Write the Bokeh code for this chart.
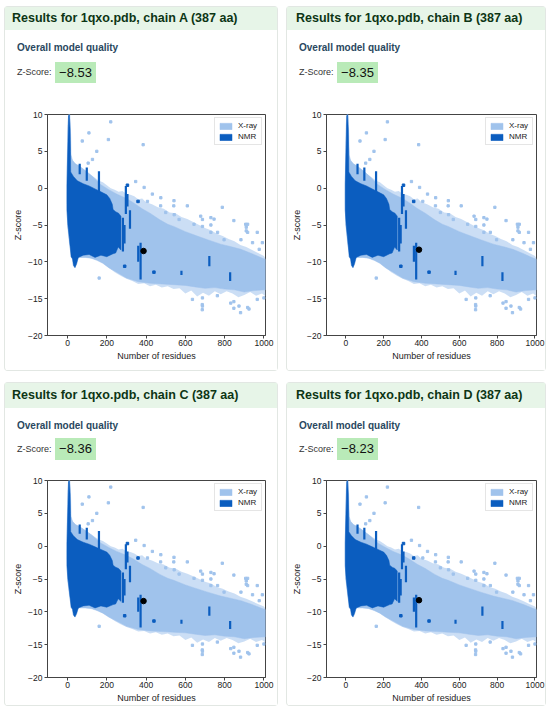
from bokeh.plotting import figure
from bokeh.layouts import column, row
from bokeh.models import Div, FixedTicker, Range1d
from bokeh.embed import file_html
from bokeh.resources import INLINE

# ---------------- data ----------------
chains = ["A", "B", "C", "D"]
z_scores = [-8.53, -8.35, -8.36, -8.23]
n_residues = 387

x_ticks = [0, 200, 400, 600, 800, 1000]
x_tick_labels = ["0", "200", "400", "600", "800", "1000"]
y_ticks = [-20, -15, -10, -5, 0, 5, 10]
y_tick_labels = ["\u221220", "\u221215", "\u221210", "\u22125", "0", "5", "10"]

# outer (sparse, speckled) edge of the X-ray cloud
halo_x = [-3, -2, 2, 6, 12, 16, 18, 25, 40, 60, 80, 100, 120, 140, 160, 180, 200, 220,
          240, 260, 280, 300, 320, 340, 360, 380, 400, 430, 460, 490, 520, 550, 580, 610,
          640, 670, 700, 730, 760, 790, 820, 850, 880, 910, 940, 970, 1000, 1010,
          1010, 990, 960, 930, 900, 870, 840, 810, 780, 750, 720, 690, 660, 630, 600, 570,
          540, 510, 480, 450, 420, 390, 360, 330, 300, 270, 240, 210, 180, 150, 120, 90,
          60, 45, 30, 20, 10, 0, -3]
halo_y = [-1.0, 3.0, 8.5, 10.0, 10.0, 7.0, 4.5, 3.8, 3.3, 3.0, 2.6, 2.2, 1.8, 1.4, 1.0, 0.8, 0.4, 0.0,
          -0.2, -0.5, -0.4, -0.8, -0.9, -1.1, -1.5, -1.4, -1.9, -2.2, -2.6, -2.8, -3.3, -3.4, -3.9, -4.2,
          -4.6, -5.0, -5.4, -5.7, -6.2, -6.5, -6.9, -7.2, -7.7, -8.0, -8.4, -8.8, -9.2, -9.6,
          -14.7, -14.3, -14.6, -14.1, -14.5, -14.8, -14.3, -14.0, -14.4, -14.0, -14.6, -14.2, -14.7, -13.9, -14.3, -13.6,
          -13.7, -13.3, -13.5, -13.1, -13.3, -12.9, -13.0, -12.6, -12.3, -11.9, -11.4, -10.8, -10.2, -9.8, -9.5, -9.4,
          -9.4, -9.6, -9.2, -8.8, -7.5, -5.0, -2.0]

# dense core of the X-ray cloud
xray_x = [-3, -2, 2, 6, 12, 16, 18, 25, 40, 60, 80, 100, 130, 168, 210, 250, 300, 337, 380, 420,
          470, 510, 541, 600, 650, 713, 780, 840, 883, 940, 1008,
          1008, 950, 900, 850, 800, 750, 700, 650, 600, 540, 480, 420, 360, 300, 250, 210, 180,
          150, 120, 90, 60, 45, 30, 20, 10, 0, -3]
xray_y = [-1.0, 3.0, 8.5, 10.0, 10.0, 7.0, 4.5, 3.8, 3.3, 3.0, 2.6, 2.2, 1.5, 0.5, -0.2, -0.8, -1.4, -2.0, -2.8, -3.4,
          -4.3, -4.9, -5.2, -5.9, -6.4, -7.0, -7.6, -8.0, -8.3, -8.9, -9.7,
          -13.8, -13.9, -14.1, -13.8, -13.7, -13.5, -13.6, -13.4, -13.2, -13.1, -13.0, -12.9, -12.7, -12.2, -11.4, -10.8, -10.2,
          -9.8, -9.5, -9.4, -9.4, -9.6, -9.2, -8.8, -7.5, -5.0, -2.0]

# scattered X-ray structures outside the cloud
xray_pts_x = [220, 208, 149, 127, 109, 75, 385, 105, 347, 390, 432, 475, 542, 610, 678, 788, 746, 847,
              907, 910, 910, 966, 992, 407, 474, 541, 500, 543, 568, 644, 687, 687, 730, 730, 730, 764,
              797, 883, 917, 917, 942, 976, 686, 686, 873, 881, 924, 831, 161, 636, 763, 966, 1000,
              687, 687, 847, 847, 917]
xray_pts_y = [9.0, 6.6, 5.0, 3.9, 7.5, 6.4, 5.9, 3.4, 0.9, 0.1, -0.8, -1.3, -1.7, -2.4, -3.8, -2.6, -4.2, -4.4,
              -4.9, -5.3, -5.8, -6.0, -7.4, -1.8, -2.4, -2.4, -3.3, -3.6, -4.25, -4.9, -4.25, -5.2, -4.0, -5.0, -6.0, -6.0,
              -7.0, -7.0, -4.9, -6.0, -7.4, -8.3, -15.8, -16.5, -16.0, -16.9, -16.4, -15.6, -12.2, -15.1, -14.6, -15.1, -14.9,
              -14.9, -16.0, -15.4, -16.3, -16.2]

# envelope of the NMR cloud
nmr_x = [-3, 2, 5, 9, 13, 15, 16, 30, 50, 80, 110, 140, 170, 200, 215, 228, 232, 245, 260, 272,
         272, 258, 245, 232, 200, 170, 140, 110, 80, 55, 46, 38, 30, 25, 18, 10, 2, -3]
nmr_y = [0.5, 6.0, 9.8, 10.0, 8.0, 5.0, 2.2, 1.6, 1.0, 0.6, 0.3, -0.1, -0.5, -0.9, -1.4, -2.2, -2.9, -3.2, -3.4, -3.8,
         -8.4, -8.0, -8.8, -8.9, -9.3, -9.1, -9.4, -9.0, -9.1, -9.4, -10.3, -10.8, -10.5, -9.6, -9.3, -7.0, -5.0, -3.0]

# NMR vertical streaks (residues, lowest and highest Z)
streak_x = [62, 98, 160, 282, 290, 297, 305, 318, 360, 372, 580, 722, 828]
streak_lo = [1.9, 1.0, -0.6, -8.6, -7.5, -3.5, -2.5, -5.5, -10.0, -12.4, -11.8, -10.6, -12.6]
streak_hi = [3.3, 2.8, 2.3, -4.0, -5.0, 0.3, -0.8, -3.0, -7.8, -7.4, -11.2, -9.2, -11.4]

nmr_pts_x = [305, 359, 291, 440]
nmr_pts_y = [0.4, -1.8, -10.6, -11.4]

XRAY = "#a0c3ec"
NMR = "#0b5dbf"
FONT = "Liberation Sans"


def make_plot(z, width, height, bl, br, bt, bb):
    p = figure(width=width, height=height, output_backend="svg", toolbar_location=None,
               x_range=Range1d(-102, 1008), y_range=Range1d(-20, 10),
               min_border_left=bl, min_border_right=br, min_border_top=bt, min_border_bottom=bb,
               margin=(0, 0, 0, 0))
    p.patch(halo_x, halo_y, fill_color=XRAY, fill_alpha=0.55, line_color=None)
    p.patch(xray_x, xray_y, fill_color=XRAY, line_color=XRAY, line_width=0.5, legend_label="X-ray")
    p.scatter(xray_pts_x, xray_pts_y, marker="square", size=2.3, color=XRAY)
    p.patch(nmr_x, nmr_y, fill_color=NMR, line_color=NMR, line_width=0.5, legend_label="NMR")
    p.segment(x0=streak_x, y0=streak_lo, x1=streak_x, y1=streak_hi, line_color=NMR, line_width=2.2)
    p.scatter(nmr_pts_x, nmr_pts_y, marker="square", size=2.5, color=NMR)
    p.scatter([n_residues], [z], size=5.5, color="black")

    p.xgrid.visible = False
    p.ygrid.visible = False
    p.outline_line_color = "#444444"
    p.outline_line_width = 1
    p.background_fill_color = "white"
    p.border_fill_color = "white"

    p.xaxis.ticker = FixedTicker(ticks=x_ticks)
    p.yaxis.ticker = FixedTicker(ticks=y_ticks)
    p.xaxis.major_label_overrides = dict(zip(x_ticks, x_tick_labels))
    p.yaxis.major_label_overrides = dict(zip(y_ticks, y_tick_labels))
    p.xaxis.axis_label = "Number of residues"
    p.yaxis.axis_label = "Z-score"
    for ax in (p.xaxis, p.yaxis):
        ax.axis_line_color = "#444444"
        ax.major_tick_line_color = "#444444"
        ax.major_tick_out = 3
        ax.major_tick_in = 0
        ax.minor_tick_line_color = None
        ax.major_label_text_font = FONT
        ax.major_label_text_font_size = "8.5px"
        ax.major_label_text_color = "#222222"
        ax.axis_label_text_font = FONT
        ax.axis_label_text_font_size = "9px"
        ax.axis_label_text_font_style = "normal"
        ax.axis_label_text_color = "#222222"
        ax.axis_label_standoff = 2
    p.xaxis.major_label_standoff = 1
    p.yaxis.major_label_standoff = 2

    lg = p.legend[0]
    lg.location = "top_right"
    lg.label_text_font = FONT
    lg.label_text_font_size = "8px"
    lg.label_text_color = "#222222"
    lg.glyph_width = 15
    lg.glyph_height = 8
    lg.label_height = 9
    lg.label_standoff = 5
    lg.spacing = 2
    lg.padding = 3
    lg.margin = 3
    lg.border_line_color = "#cccccc"
    lg.background_fill_alpha = 0.9
    return p


def make_panel(chain, z, width, top, bl, br, pad):
    header_h = 23 if top else 25
    info_h = 69 if top else 57
    fig_h = 271 if top else 240
    t1 = 12
    t2 = 32 if top else 30
    bh = 21 if top else 22
    header = Div(
        text=(f'<div style="width:{width}px;height:{header_h}px;line-height:{header_h}px;'
              f'background:#e7f5e8;color:#0d3515;font-family:\'{FONT}\',Arial,sans-serif;'
              f'font-size:12.5px;font-weight:bold;padding-left:{pad}px;box-sizing:border-box;'
              f'white-space:nowrap;">Results for 1qxo.pdb, chain {chain} ({n_residues} aa)</div>'),
        width=width, height=header_h, margin=(0, 0, 0, 0))
    ztxt = "\u2212" + f"{abs(z):.2f}"
    info = Div(
        text=(f'<div style="position:relative;width:{width}px;height:{info_h}px;'
              f'font-family:\'{FONT}\',Arial,sans-serif;white-space:nowrap;">'
              f'<div style="position:absolute;left:12px;top:{t1}px;font-size:10px;line-height:12px;'
              f'font-weight:bold;color:#2a4860;">Overall model quality</div>'
              f'<div style="position:absolute;left:12px;top:{t2}px;height:{bh}px;line-height:{bh}px;'
              f'font-size:9px;color:#333333;">Z-Score:</div>'
              f'<div style="position:absolute;left:50px;top:{t2}px;width:41px;height:{bh}px;'
              f'line-height:{bh}px;background:#b9eab8;font-size:13px;color:#111111;'
              f'text-align:center;">{ztxt}</div></div>'),
        width=width, height=info_h, margin=(0, 0, 0, 0))
    if top:
        p = make_plot(z, width, fig_h, bl, br, 15, 35)
    else:
        p = make_plot(z, width, fig_h, bl, br, 15, 28)
    return column(header, info, p, spacing=0, margin=(0, 0, 0, 0),
                  styles={"box-shadow": "0 0 0 1px #e2e7e3", "border-radius": "3px"})


pA = make_panel(chains[0], z_scores[0], 272, True, 42, 12, 7)
pB = make_panel(chains[1], z_scores[1], 258, True, 39, 9, 9)
pC = make_panel(chains[2], z_scores[2], 272, False, 42, 12, 7)
pD = make_panel(chains[3], z_scores[3], 258, False, 39, 9, 9)

layout = column(row(pA, pB, spacing=10, margin=(0, 0, 0, 0)),
                row(pC, pD, spacing=10, margin=(0, 0, 0, 0)),
                spacing=13, margin=(7, 0, 0, 5))

open("out.html", "w").write(file_html(layout, INLINE))
